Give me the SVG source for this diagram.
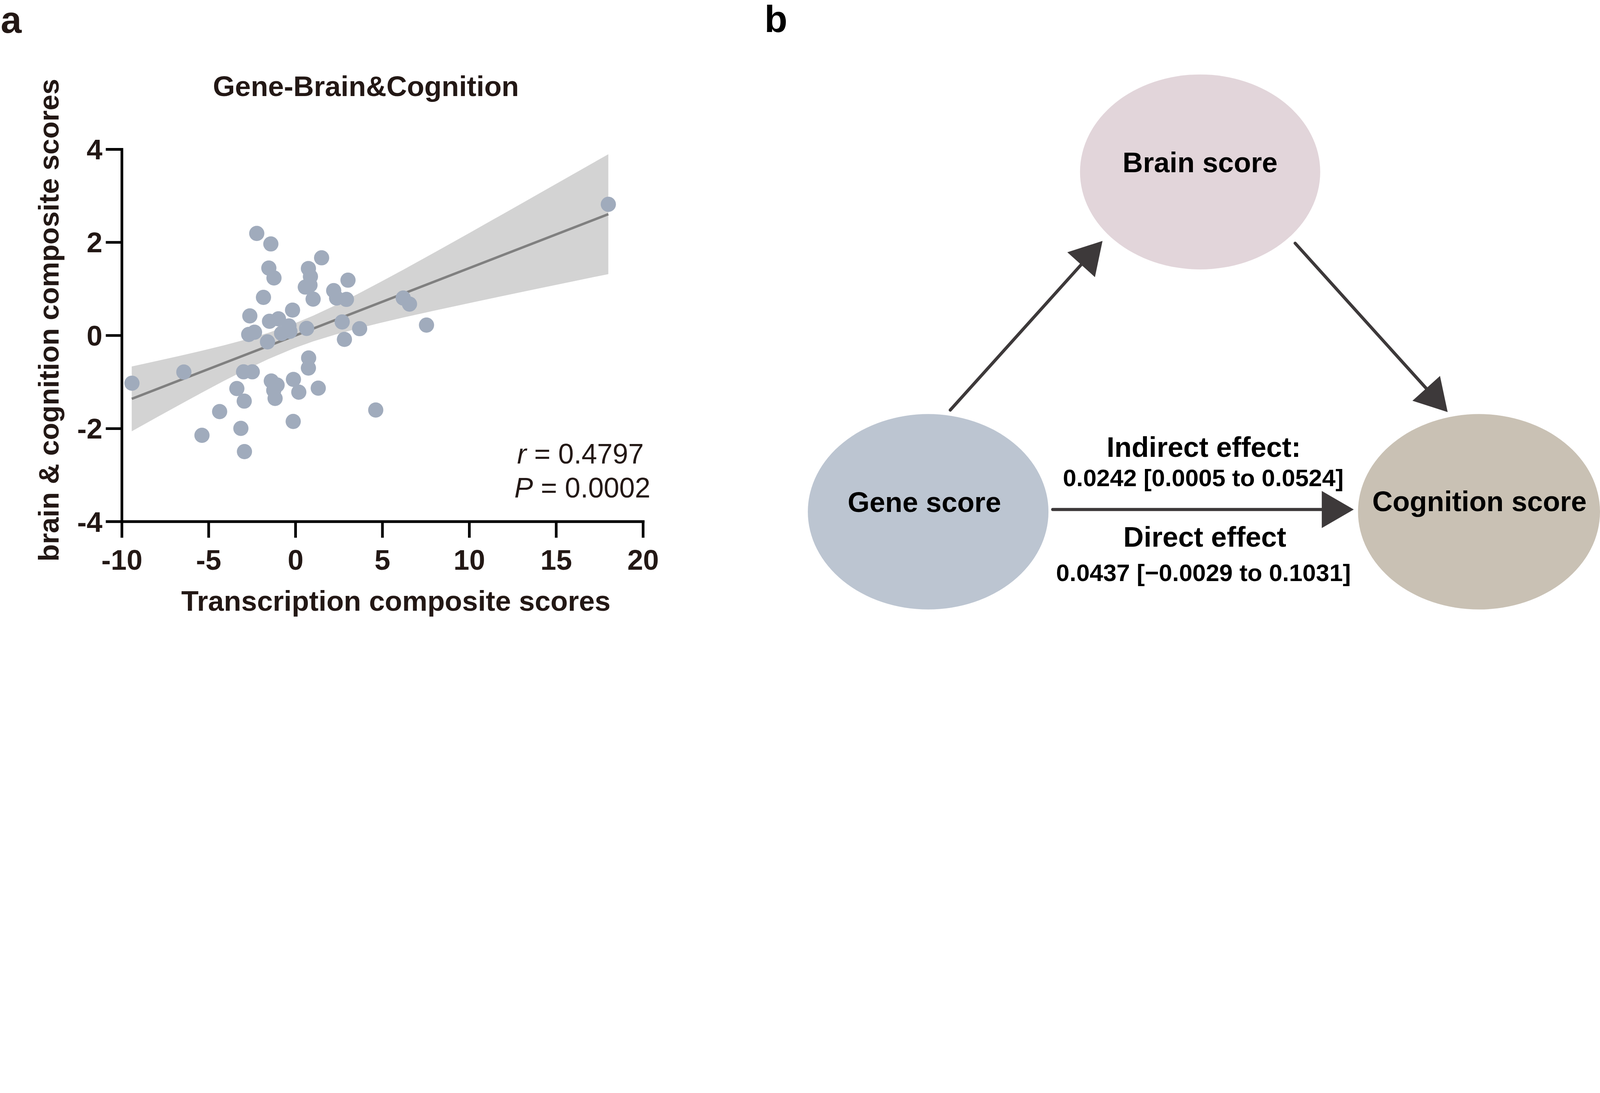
<svg xmlns="http://www.w3.org/2000/svg" width="7154" height="2799" viewBox="0 0 7154 2799" preserveAspectRatio="xMinYMin meet">
<style>
svg:root{max-width:100vw}
text{font-family:"Liberation Sans",Arial,Helvetica,sans-serif}
.pl{font-size:168px;font-weight:bold;fill:#231815}
.tk{font-size:127px;font-weight:bold;fill:#231815}
.ttl{font-size:127px;font-weight:bold;fill:#231815}
.ax{stroke:#000;stroke-width:12;fill:none}
.pt{fill:#A0ABBC}
.stat{font-size:125px;fill:#231815}
.nl{font-size:126px;font-weight:bold;fill:#000;text-anchor:middle}
.el{font-size:126px;font-weight:bold;fill:#000;text-anchor:middle}
.ev{font-size:108px;font-weight:bold;fill:#000;text-anchor:middle}
.conn{stroke:#3D393A;stroke-width:14;stroke-linecap:round;fill:none;marker-end:url(#ah)}
</style>
<defs>
<marker id="ah" markerUnits="userSpaceOnUse" viewBox="0 0 145 166" markerWidth="145" markerHeight="166" refX="0" refY="83" orient="auto" overflow="visible">
<path d="M0,0 L143,83 L0,166 Z" fill="#3D393A"/>
</marker>
</defs>
<rect width="7154" height="2799" fill="#fff"/>
<g id="panel-a">
<text class="pl" x="3" y="147">a</text>
<text class="ttl" x="1636" y="430" text-anchor="middle">Gene-Brain&amp;Cognition</text>
<g id="ci-band">
<polygon fill="#D3D3D3" points="589,1639 700,1614.9 800,1592.5 900,1569.3 1000,1545 1100,1518.4 1200,1488.4 1310,1449.5 1400,1412.1 1500,1365.4 1600,1314.9 1700,1262.1 1800,1208 1950,1125.1 2100,1041.2 2250,956.6 2400,871.7 2550,786.5 2720,689.7 2720,1225.9 2550,1260.9 2400,1292.1 2250,1323.4 2100,1355.2 1950,1387.5 1800,1421 1700,1444.3 1600,1469.1 1500,1496.2 1400,1527.1 1310,1559.5 1200,1605.8 1100,1653.4 1000,1704.4 900,1757.5 800,1811.9 700,1867.1 589,1929"/>
</g>
<line id="fit-line" x1="589" y1="1784" x2="2720" y2="958" stroke="#808080" stroke-width="11"/>
<g id="points" class="pt">
<circle cx="1148" cy="1044" r="34"/><circle cx="1211" cy="1091" r="34"/><circle cx="1438" cy="1153" r="34"/><circle cx="1202" cy="1199" r="34"/><circle cx="1379" cy="1201" r="34"/><circle cx="1225" cy="1243" r="34"/><circle cx="1388" cy="1237" r="34"/><circle cx="1556" cy="1253" r="34"/><circle cx="1386" cy="1275" r="34"/><circle cx="1365" cy="1284" r="34"/><circle cx="1492" cy="1300" r="34"/><circle cx="1178" cy="1330" r="34"/><circle cx="1400" cy="1338" r="34"/><circle cx="1505" cy="1333" r="34"/><circle cx="1549" cy="1339" r="34"/><circle cx="1308" cy="1387" r="34"/><circle cx="1117" cy="1413" r="34"/><circle cx="1205" cy="1437" r="34"/><circle cx="1245" cy="1426" r="34"/><circle cx="1292" cy="1458" r="34"/><circle cx="1259" cy="1491" r="34"/><circle cx="1296" cy="1482" r="34"/><circle cx="1371" cy="1469" r="34"/><circle cx="1530" cy="1440" r="34"/><circle cx="1608" cy="1470" r="34"/><circle cx="1540" cy="1518" r="34"/><circle cx="1112" cy="1496" r="34"/><circle cx="1138" cy="1486" r="34"/><circle cx="1196" cy="1529" r="34"/><circle cx="1380" cy="1601" r="34"/><circle cx="1379" cy="1646" r="34"/><circle cx="1089" cy="1663" r="34"/><circle cx="1128" cy="1663" r="34"/><circle cx="590" cy="1714" r="34"/><circle cx="822" cy="1664" r="34"/><circle cx="1803" cy="1333" r="34"/><circle cx="1831" cy="1360" r="34"/><circle cx="1907" cy="1454" r="34"/><circle cx="1213" cy="1704" r="34"/><circle cx="1239" cy="1722" r="34"/><circle cx="1224" cy="1746" r="34"/><circle cx="1312" cy="1697" r="34"/><circle cx="1336" cy="1754" r="34"/><circle cx="1423" cy="1736" r="34"/><circle cx="1059" cy="1738" r="34"/><circle cx="1092" cy="1794" r="34"/><circle cx="1230" cy="1782" r="34"/><circle cx="982" cy="1841" r="34"/><circle cx="1680" cy="1834" r="34"/><circle cx="1311" cy="1885" r="34"/><circle cx="1077" cy="1916" r="34"/><circle cx="903" cy="1947" r="34"/><circle cx="1093" cy="2020" r="34"/><circle cx="2720" cy="914" r="34"/>
</g>
<g id="axes">
<path class="ax" d="M545,662 L545,2333 L2882,2333"/>
<path class="ax" d="M473,668 H545 M473,1084 H545 M473,1500.5 H545 M473,1917 H545 M473,2333 H545"/>
<path class="ax" d="M545,2333 V2405 M933,2333 V2405 M1321.5,2333 V2405 M1710,2333 V2405 M2098.5,2333 V2405 M2487,2333 V2405 M2875.5,2333 V2405"/>
</g>
<g id="y-ticks" class="tk" text-anchor="end">
<text x="458" y="713">4</text><text x="458" y="1129">2</text><text x="458" y="1545">0</text><text x="458" y="1962">-2</text><text x="458" y="2378">-4</text>
</g>
<g id="x-ticks" class="tk" text-anchor="middle">
<text x="545" y="2549">-10</text><text x="933" y="2549">-5</text><text x="1321.5" y="2549">0</text><text x="1710" y="2549">5</text><text x="2098.5" y="2549">10</text><text x="2487" y="2549">15</text><text x="2875.5" y="2549">20</text>
</g>
<text class="ttl" x="1770" y="2731" text-anchor="middle">Transcription composite scores</text>
<text class="ttl" transform="translate(262,1432) rotate(-90)" x="0" y="0" text-anchor="middle">brain &amp; cognition composite scores</text>
<g id="stats" class="stat">
<text x="2312" y="2073"><tspan font-style="italic">r</tspan> = 0.4797</text>
<text x="2300" y="2226"><tspan font-style="italic">P</tspan> = 0.0002</text>
</g>
</g>
<g id="panel-b">
<text class="pl" x="3418" y="143" style="fill:#000">b</text>
<g id="node-brain"><ellipse cx="5366" cy="769" rx="537" ry="436" fill="#E2D5DA"/><text class="nl" x="5366" y="771">Brain score</text></g>
<g id="node-gene"><ellipse cx="4150" cy="2289" rx="538" ry="437" fill="#BCC5D1"/><text class="nl" x="4133" y="2290">Gene score</text></g>
<g id="node-cognition"><ellipse cx="6613" cy="2289" rx="541" ry="437" fill="#C9C1B4"/><text class="nl" x="6615" y="2287">Cognition score</text></g>
<g id="connectors">
<line class="conn" x1="4249" y1="1834" x2="4834" y2="1184"/>
<line class="conn" x1="5791" y1="1088" x2="6377" y2="1737"/>
<line class="conn" x1="4707" y1="2279" x2="5910" y2="2279"/>
</g>
<g id="edge-labels">
<text class="el" x="5382" y="2044">Indirect effect:</text>
<text class="ev" x="5380" y="2174">0.0242 [0.0005 to 0.0524]</text>
<text class="el" x="5387" y="2446">Direct effect</text>
<text class="ev" x="5381" y="2599">0.0437 [−0.0029 to 0.1031]</text>
</g>
</g>
</svg>
